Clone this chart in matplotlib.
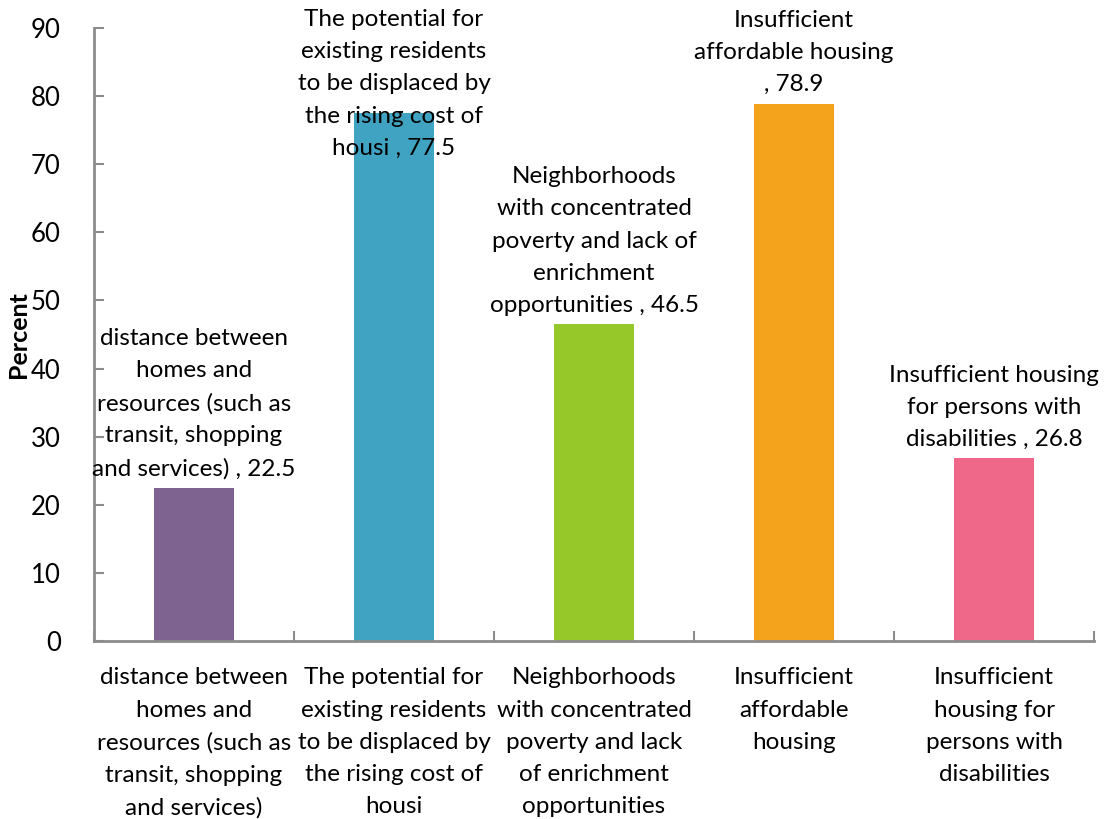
import matplotlib
matplotlib.use("Agg")
import matplotlib.pyplot as plt
import numpy as np

plt.rcParams['font.family'] = ['Lato', 'DejaVu Sans']

# category names as they wrap under the axis
categories = [
    "distance between\nhomes and\nresources (such as\ntransit, shopping\nand services)",
    "The potential for\nexisting residents\nto be displaced by\nthe rising cost of\nhousi",
    "Neighborhoods\nwith concentrated\npoverty and lack\nof enrichment\nopportunities",
    "Insufficient\naffordable\nhousing",
    "Insufficient\nhousing for\npersons with\ndisabilities",
]
# same names as they wrap in the data labels
label_names = [
    "distance between\nhomes and\nresources (such as\ntransit, shopping\nand services)",
    "The potential for\nexisting residents\nto be displaced by\nthe rising cost of\nhousi",
    "Neighborhoods\nwith concentrated\npoverty and lack of\nenrichment\nopportunities",
    "Insufficient\naffordable housing\n",
    "Insufficient housing\nfor persons with\ndisabilities",
]
values = [22.5, 77.5, 46.5, 78.9, 26.8]
colors = ['#7E6290', '#41A3C2', '#97C82A', '#F4A41C', '#EF6889']
yticks = [0, 10, 20, 30, 40, 50, 60, 70, 80, 90]

FS = 17.5
LS = 1.66
AXIS_GREY = '#8C8C8C'

fig = plt.figure(figsize=(11.05, 8.19), dpi=100)
ax = fig.add_axes([94 / 1105, 1 - 641 / 819, 1000 / 1105, 613 / 819])

x = np.arange(len(values))
ax.bar(x, values, width=0.4, color=colors, zorder=2)

ax.set_xlim(-0.5, len(values) - 0.5)
ax.set_ylim(0, 90)
ax.set_yticks(yticks)
ax.set_xticks(x)
ax.set_xticklabels(categories, fontsize=FS, linespacing=LS)
ax.set_xticks(np.arange(-0.5, len(values), 1.0), minor=True)

ax.tick_params(axis='x', which='major', length=0, pad=19)
ax.tick_params(axis='x', which='minor', direction='in', length=7,
               width=1.5, color=AXIS_GREY)
ax.tick_params(axis='y', direction='in', length=7, width=1.5,
               color=AXIS_GREY, labelsize=FS + 1, pad=24)

for side in ['top', 'right']:
    ax.spines[side].set_visible(False)
for side in ['left', 'bottom']:
    ax.spines[side].set_color(AXIS_GREY)
    ax.spines[side].set_linewidth(2)

ax.set_ylabel("Percent", fontsize=FS + 0.5, fontweight='bold')
ax.yaxis.set_label_coords(-0.064, 0.5)

# data labels sit above each bar, pushed down if they run off the top
labels = []
for xi, v, name in zip(x, values, label_names):
    text = name.rstrip("\n")
    if name.endswith("\n"):
        text = text + "\n, %.1f" % v
    else:
        text = text + " , %.1f" % v
    t = ax.annotate(text, xy=(xi, v), xytext=(0, 6), textcoords='offset points',
                    ha='center', va='bottom', fontsize=FS, linespacing=LS,
                    multialignment='center', annotation_clip=False)
    labels.append(t)

fig.canvas.draw()
renderer = fig.canvas.get_renderer()
fig_h = fig.bbox.height
for t in labels:
    bb = t.get_window_extent(renderer)
    limit = fig_h - 9
    if bb.y1 > limit:
        dy = (bb.y1 - limit) * 72 / fig.dpi
        ox, oy = t.xyann
        t.xyann = (ox, oy - dy)

fig.savefig("out.png", dpi=100)
